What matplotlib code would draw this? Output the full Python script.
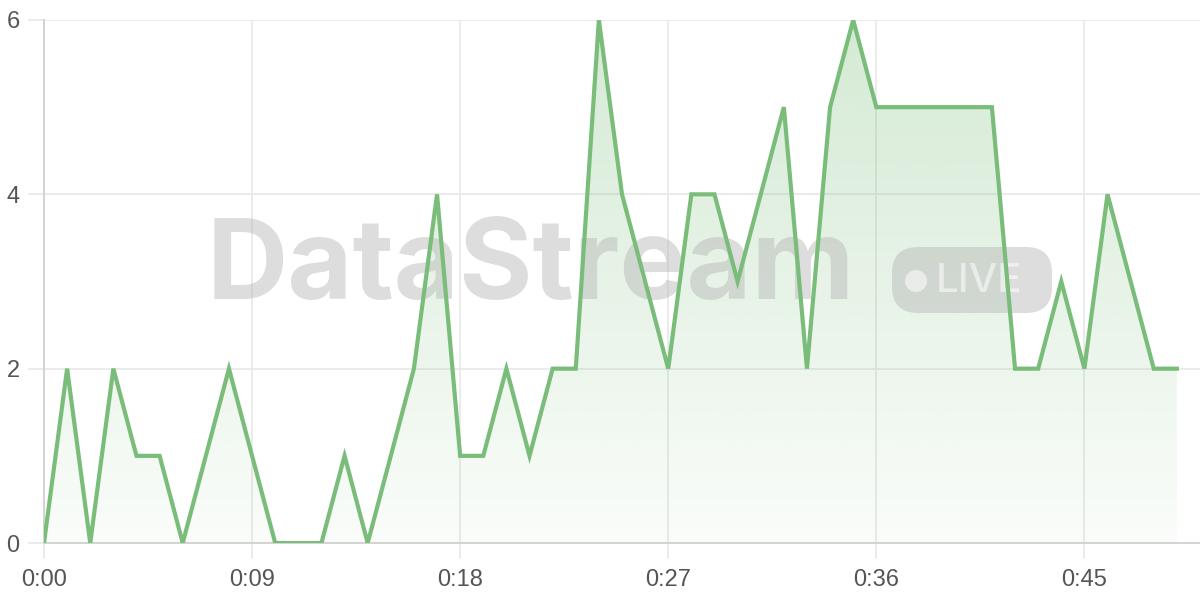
import numpy as np
import matplotlib
matplotlib.use("Agg")
import matplotlib.pyplot as plt
from matplotlib.patches import FancyBboxPatch, Circle

# --- data: one sample per minute ---
MINUTES = list(range(50))
VALUES = [0, 2, 0, 2, 1, 1, 0, 1, 2, 1,
          0, 0, 0, 1, 0, 1, 2, 4, 1, 1,
          2, 1, 2, 2, 6, 4, 3, 2, 4, 4,
          3, 4, 5, 2, 5, 6, 5, 5, 5, 5,
          5, 5, 2, 2, 3, 2, 4, 3, 2, 2]
X_TICKS = [0, 9, 18, 27, 36, 45]
X_TICK_LABELS = ["0:00", "0:09", "0:18", "0:27", "0:36", "0:45"]
Y_TICKS = [0, 2, 4, 6]

LINE_COLOR = "#7abd7a"
GRID_COLOR = "#e8e8e8"
TEXT_COLOR = "#555555"

fig = plt.figure(figsize=(12, 6), dpi=100, facecolor="white")
ax = fig.add_axes([44 / 1200, 57 / 600, 1156 / 1200, 523 / 600])
ax.set_xlim(0, 50)
ax.set_ylim(0, 6)

# gradient fill under the line
poly = ax.fill_between(MINUTES, VALUES, 0, color="none", lw=0)
grad = np.linspace(0.04, 0.32, 256).reshape(-1, 1)
rgba = np.zeros((256, 1, 4))
rgba[..., 0] = 0x7a / 255
rgba[..., 1] = 0xbd / 255
rgba[..., 2] = 0x7a / 255
rgba[..., 3] = grad
img = ax.imshow(rgba, extent=[0, 50, 0, 6], origin="lower", aspect="auto", zorder=1)
img.set_clip_path(poly.get_paths()[0], transform=ax.transData)

# grid and axes
ax.set_xticks(X_TICKS)
ax.set_xticklabels(X_TICK_LABELS)
ax.set_yticks(Y_TICKS)
ax.grid(True, color=GRID_COLOR, lw=1.2, zorder=0)
ax.set_axisbelow(True)
for s in ["top", "right"]:
    ax.spines[s].set_visible(False)
for s in ["left", "bottom"]:
    ax.spines[s].set_color("#d4d4d4")
    ax.spines[s].set_linewidth(1.5)
ax.tick_params(axis="both", width=1.2, color=GRID_COLOR,
               labelsize=17, labelcolor=TEXT_COLOR)
for lab in ax.get_xticklabels() + ax.get_yticklabels():
    lab.set_family("Liberation Sans")
ax.tick_params(axis="y", length=11.5, pad=6)
ax.tick_params(axis="x", length=11, pad=8)

# watermark, drawn in pixel coordinates on an overlay axes
wm = fig.add_axes([0, 0, 1, 1], zorder=3)
wm.set_xlim(0, 1200)
wm.set_ylim(600, 0)
wm.axis("off")
wm.patch.set_alpha(0)
wm.text(207, 269, "DataStream", fontsize=81, fontweight="bold", family="Inter",
        color="#b4b4b4", alpha=0.45, va="center", ha="left")
wm.add_patch(FancyBboxPatch((892, 247), 160, 66, boxstyle="round,pad=0,rounding_size=26",
                            facecolor="#b4b4b4", alpha=0.45, edgecolor="none"))
wm.add_patch(Circle((916, 281), 11, facecolor="white", alpha=0.55, edgecolor="none"))
wm.text(936, 281, "LIVE", fontsize=29, family="Inter", fontweight="medium",
        color="white", alpha=0.55, va="center", ha="left")

# keep the data line above the watermark
line_ax = fig.add_axes(ax.get_position(), zorder=4, sharex=ax, sharey=ax)
line_ax.axis("off")
line_ax.patch.set_alpha(0)
line_ax.plot(MINUTES, VALUES, color=LINE_COLOR, lw=3, solid_joinstyle="miter")

fig.savefig("out.png", dpi=100, facecolor="white")
